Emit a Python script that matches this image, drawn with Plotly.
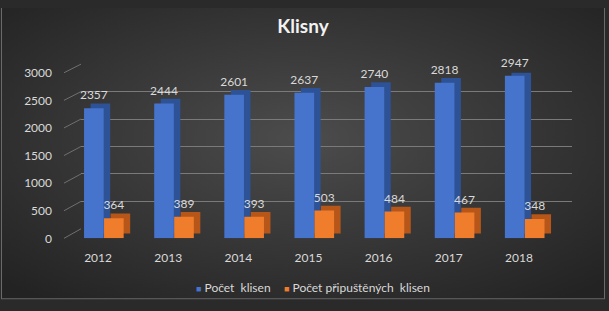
import base64
import plotly.graph_objects as go

# ---- data ----
years = ["2012", "2013", "2014", "2015", "2016", "2017", "2018"]
pocet_klisen = [2357, 2444, 2601, 2637, 2740, 2818, 2947]
pocet_pripustenych = [364, 389, 393, 503, 484, 467, 348]
series_names = ["Počet  klisen", "Počet připuštěných  klisen"]
y_ticks = [0, 500, 1000, 1500, 2000, 2500, 3000]
title_text = "Klisny"

W, H = 609, 311
FONT = "Lato, Open Sans, sans-serif"
TXT = "#d9d9d9"

# ---- geometry (paper fractions) ----
xd_front = [63 / W, 554 / W]
yd_front = [(H - 242) / H, (H - 68) / H]
xd_back = [81 / W, 572 / W]
yd_back = [(H - 232) / H, (H - 59) / H]

bar_w = 0.28
depth_x = 0.093          # side-face shift (category units)
depth_y = 86             # top-face shift (value units)
label_lift = 52          # extra lift of value labels (value units)

blue, blue_side = "#4673cc", "#2d5296"
orange, orange_side = "#f07d2c", "#b65618"
colors = [blue, orange]
offsets = [-0.2, 0.085]
sides = [blue_side, orange_side]
series_vals = [pocet_klisen, pocet_pripustenych]

fig = go.Figure()

# back wall gridlines carrier (drawn first, behind the bars)
fig.add_trace(go.Scatter(x=years, y=[None] * len(years), xaxis="x", yaxis="y",
                         mode="markers", showlegend=False, hoverinfo="skip"))

for vals, c, sc, off, name in zip(series_vals, colors, sides, offsets, series_names):
    # side + top face (pseudo 3D)
    fig.add_trace(go.Bar(x=years, y=vals, base=[depth_y] * len(years),
                         width=bar_w, offset=off + depth_x, marker_color=sc,
                         marker_line_width=0, showlegend=False, hoverinfo="skip",
                         xaxis="x2", yaxis="y2"))
    # front face
    fig.add_trace(go.Bar(x=years, y=vals, width=bar_w, offset=off,
                         marker_color=c, marker_line_width=0, name=name,
                         showlegend=False, xaxis="x2", yaxis="y2"))

# value labels (transparent carriers, slightly lifted like the 3D labels)
for vals, off in zip(series_vals, offsets):
    fig.add_trace(go.Bar(x=years, y=vals, base=[label_lift] * len(years),
                         width=bar_w, offset=off, marker_color="rgba(0,0,0,0)",
                         marker_line_width=0, text=vals, textposition="outside",
                         constraintext="none", cliponaxis=False,
                         textfont=dict(color=TXT, size=12, family=FONT),
                         showlegend=False, hoverinfo="skip",
                         xaxis="x2", yaxis="y2"))

# legend entries (small square marker inline with the text), one legend each
for i, (name, c) in enumerate(zip(series_names, colors)):
    fig.add_trace(go.Scatter(
        x=[None], y=[None], mode="markers", xaxis="x2", yaxis="y2",
        marker=dict(size=1, color="rgba(0,0,0,0)"),
        name=f"<span style='color:{c};font-size:9px'>■</span> {name}",
        legend="legend" if i == 0 else "legend2",
        showlegend=True, hoverinfo="skip"))

# background (radial gradient) as an image
svg = (f'<svg xmlns="http://www.w3.org/2000/svg" width="{W}" height="{H}">'
       '<defs><radialGradient id="g" cx="50%" cy="45%" r="70%">'
       '<stop offset="0" stop-color="#4c4c4c"/><stop offset="1" stop-color="#232323"/>'
       '</radialGradient></defs>'
       f'<rect width="{W}" height="{H}" fill="#2a2a2a"/>'
       f'<rect x="1.5" y="-1" width="{W-6}" height="{H-4.5}" fill="url(#g)" '
       'stroke="#6a6a6a" stroke-width="1"/>'
       '</svg>')
src = "data:image/svg+xml;base64," + base64.b64encode(svg.encode()).decode()

# slanted connector lines on the left side wall
shapes = []
for t in y_ticks:
    f = t / y_ticks[-1]
    y0 = yd_front[0] + f * (yd_front[1] - yd_front[0])
    y1 = yd_back[0] + f * (yd_back[1] - yd_back[0])
    shapes.append(dict(type="line", xref="paper", yref="paper",
                       x0=64 / W, y0=y0, x1=xd_back[0], y1=y1,
                       line=dict(color="#707070", width=1), layer="below"))

leg_common = dict(orientation="h", yanchor="middle", y=(H - 293) / H,
                  xanchor="left", bgcolor="rgba(0,0,0,0)",
                  font=dict(color=TXT, size=12, family=FONT), itemwidth=30)

fig.update_layout(
    width=W, height=H,
    margin=dict(l=0, r=0, t=0, b=0),
    paper_bgcolor="#2a2a2a", plot_bgcolor="rgba(0,0,0,0)",
    barmode="overlay",
    font=dict(family=FONT, color=TXT, size=12),
    title=dict(text=f"<b>{title_text}</b>", x=303 / W, xanchor="center",
               y=1 - 26 / H, yanchor="middle",
               font=dict(size=19, color="#f2f2f2", family=FONT)),
    images=[dict(source=src, xref="paper", yref="paper", x=0, y=1,
                 sizex=1, sizey=1, sizing="stretch", layer="below")],
    shapes=shapes,
    # back wall (gridlines only)
    xaxis=dict(domain=xd_back, type="category", showgrid=False, zeroline=False,
               showticklabels=False, anchor="y"),
    yaxis=dict(domain=yd_back, range=[0, 3000], tickvals=y_ticks,
               showgrid=True, gridcolor="#7a7a7a", gridwidth=1,
               zeroline=False, showticklabels=False, anchor="x"),
    # front (bars + tick labels)
    xaxis2=dict(domain=xd_front, type="category", showgrid=False, zeroline=False,
                showline=False, ticks="", ticklabelstandoff=11,
                tickfont=dict(color=TXT, size=12, family=FONT), anchor="y2"),
    yaxis2=dict(domain=yd_front, range=[0, 3000], tickvals=y_ticks,
                showgrid=False, zeroline=False, showline=False, ticks="",
                ticklabelstandoff=10,
                tickfont=dict(color=TXT, size=12, family=FONT), anchor="x2"),
    legend=dict(x=156 / W, **leg_common),
    legend2=dict(x=244 / W, **leg_common),
    showlegend=True,
)

fig.write_html("out.html")
